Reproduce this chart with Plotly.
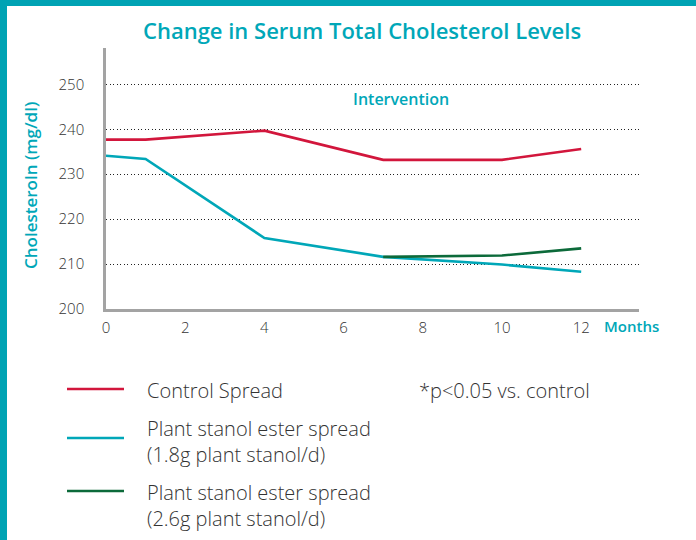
import plotly.graph_objects as go

# ---- data ----
months_control = [0, 1, 4, 7, 10, 12]
control = [237.7, 237.7, 239.7, 233.2, 233.2, 235.6]

months_low = [0, 1, 4, 7, 10, 12]
stanol_low = [234.1, 233.4, 215.8, 211.6, 209.9, 208.3]

months_high = [7, 10, 12]
stanol_high = [211.6, 211.9, 213.5]

series_names = ["Control Spread",
                "Plant stanol ester spread<br>(1.8g plant stanol/d)",
                "Plant stanol ester spread<br>(2.6g plant stanol/d)"]
x_ticks = [0, 2, 4, 6, 8, 10, 12]
y_ticks = [200, 210, 220, 230, 240, 250]

RED = "#d2163c"
TEAL = "#00a7b8"
GREEN = "#0c6a3a"
FRAME = "#00a3b4"
TXT = "#333333"
FONT = "Open Sans, Lato, sans-serif"

fig = go.Figure()
for xs, ys, c, n in [(months_control, control, RED, series_names[0]),
                     (months_low, stanol_low, TEAL, series_names[1]),
                     (months_high, stanol_high, GREEN, series_names[2])]:
    fig.add_trace(go.Scatter(x=xs, y=ys, mode="lines", name=n,
                             line=dict(color=c, width=2.6), showlegend=False))

W, H = 696, 540
L, R, T, B = 106, 57, 48, 231

fig.update_layout(
    width=W, height=H,
    margin=dict(l=L, r=R, t=T, b=B),
    paper_bgcolor="white", plot_bgcolor="white",
    font=dict(family=FONT, color=TXT),
    xaxis=dict(range=[0, 13.46], tickvals=x_ticks, showgrid=False,
               showline=True, linecolor="#a3a3a3", linewidth=2.5,
               ticks="", zeroline=False, tickfont=dict(size=15, color=TXT, weight=300),
               ticklabelstandoff=3),
    yaxis=dict(range=[200, 258.1], tickvals=y_ticks, showgrid=True,
               gridcolor="#222222", griddash="1px,2.5px", gridwidth=1.2,
               showline=True, linecolor="#a3a3a3", linewidth=2.5,
               ticks="", zeroline=False, tickfont=dict(size=15, color=TXT, weight=300),
               ticklabelstandoff=16),
    showlegend=False,
)

pw, ph = W - L - R, H - T - B
def px(x):
    return (x - L) / pw
def py(y):
    return (H - B - y) / ph

# frame bands
fig.add_shape(type="rect", xref="paper", yref="paper",
              x0=px(0), x1=px(W), y0=py(6), y1=py(0),
              line=dict(width=0), fillcolor=FRAME, layer="above")
fig.add_shape(type="rect", xref="paper", yref="paper",
              x0=px(0), x1=px(7), y0=py(H), y1=py(0),
              line=dict(width=0), fillcolor=FRAME, layer="above")

# title and labels
fig.add_annotation(text="Change in Serum Total Cholesterol Levels", xref="paper", yref="paper",
                   x=px(362), y=py(30), showarrow=False, xanchor="center", yanchor="middle",
                   font=dict(size=22, color=TEAL, family=FONT, weight=600))
fig.add_annotation(text="Cholesteroln (mg/dl)", xref="paper", yref="paper",
                   x=px(30), y=py(186), showarrow=False, xanchor="center", yanchor="middle",
                   textangle=-90,
                   font=dict(size=17, color=TEAL, family=FONT, weight=600))
fig.add_annotation(text="Intervention", xref="paper", yref="paper",
                   x=px(401), y=py(99), showarrow=False, xanchor="center", yanchor="middle",
                   font=dict(size=16, color=TEAL, family=FONT, weight=600))
fig.add_annotation(text="Months", xref="paper", yref="paper",
                   x=px(602), y=py(326), showarrow=False, xanchor="left", yanchor="middle",
                   font=dict(size=15, color=TEAL, family=FONT, weight=600))

# legend (manual)
leg_y = [389, 438, 491]
leg_text_y = [390, 442, 505]
for c, n, ly, ty in zip([RED, TEAL, GREEN], series_names, leg_y, leg_text_y):
    fig.add_shape(type="line", xref="paper", yref="paper", x0=px(67), x1=px(124),
                  y0=py(ly), y1=py(ly), line=dict(color=c, width=2.6))
    fig.add_annotation(text=n, xref="paper", yref="paper", x=px(145), y=py(ty),
                       showarrow=False, xanchor="left", yanchor="middle", align="left",
                       font=dict(size=20, color=TXT, family=FONT, weight=300))
fig.add_annotation(text="*p&lt;0.05 vs. control", xref="paper", yref="paper", x=px(417), y=py(390),
                   showarrow=False, xanchor="left", yanchor="middle",
                   font=dict(size=20, color=TXT, family=FONT, weight=300))

fig.write_html("out.html", config={"displayModeBar": False},
               post_script="document.body.style.margin='0';document.body.style.overflow='hidden';")
